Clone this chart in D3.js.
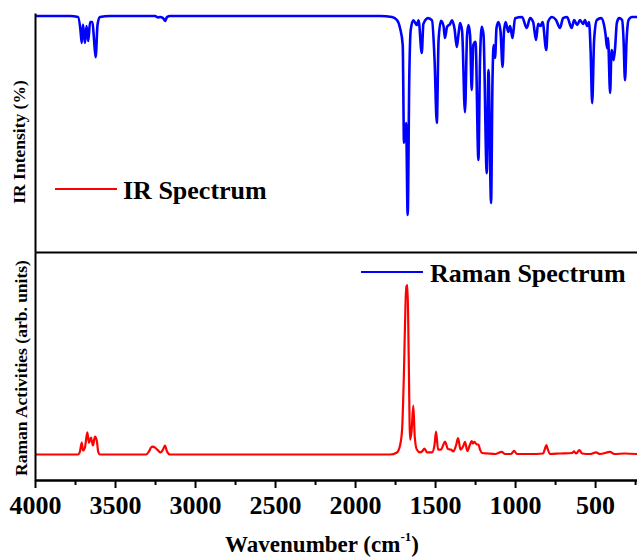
<!DOCTYPE html>
<html>
<head>
<meta charset="utf-8">
<script src="https://cdn.jsdelivr.net/npm/d3@7"></script>
<style>
body{margin:0;background:#fff;}
svg{display:block;font-family:"Liberation Serif","Times New Roman",serif;font-weight:bold;}
</style>
</head>
<body>
<div class="spectra-container"></div>
<script>
// IR spectrum (blue), wavenumber vs transmittance-like intensity
const irWavenumber = [4000,3781,3731,3716,3708,3700,3688,3678,3667,3656,3641,3631,3621,3609,3594,3531,
  3250,3231,3219,3200,3187,3175,3156,1844,1769,1737,1719,1702,1694,1681,1671,1661,1652,1636,1614,1603,
  1583,1573,1544,1519,1503,1489,1478,1463,1447,1438,1425,1406,1394,1378,1364,1354,1344,1331,1313,1300,
  1291,1281,1271,1261,1247,1229,1219,1208,1197,1177,1166,1150,1141,1134,1125,1116,1104,1091,1078,1069,
  1059,1042,1031,1016,1000,956,927,906,887,869,856,841,828,805,794,769,744,719,700,675,646,631,612,594,
  575,563,550,538,528,518,506,489,462,444,434,425,419,406,397,389,384,375,364,350,331,322,313,303,291,269,238];
const irIntensity = [100,100,99.5,93.5,87.4,96,87.4,95.3,88.3,97.2,97.2,88.8,80.8,96,99.5,100,
  100,99.3,99.5,99,97.7,99.5,100,100,99.5,98,94.4,86.4,40.7,50,7,71.5,93.5,98,95.8,98,
  82.7,96.3,99,98,79.4,50,88.8,97.7,95.3,89.7,94.9,96.3,98,93.9,85.5,91.1,96.7,93,55,91,
  95.8,91,65.4,86.4,87.9,32.7,79.4,94.9,91,26.6,74.8,12.6,70,86.4,80.4,94.4,97.2,93,76.2,93,
  97.2,92.5,95.3,89.7,99,99.5,94.4,99,97.2,88.8,96.3,95.3,97.2,84.1,97.2,99.5,98.1,94.4,99,99.5,94.4,98.1,95.8,98.1,
  96.3,98.1,95.3,97.2,84.1,59.3,88.8,98.1,99,95.8,91.1,85,89.7,64,84.1,81.8,79.4,85,96.7,99,98.1,88.8,70,88.8,98.1,99.5,99.5];

// Raman spectrum (red)
const ramanWavenumber = [4000,3731,3719,3708,3700,3688,3673,3663,3650,3638,3625,3614,3604,3594,
  3306,3288,3275,3263,3250,3231,3216,3200,3188,3175,3156,1781,1738,1719,1706,1694,1684,1678,1672,1665,
  1656,1647,1636,1627,1614,1594,1581,1566,1550,1519,1503,1494,1481,1463,1450,1438,1419,1400,1386,1369,
  1356,1341,1325,1313,1298,1284,1271,1263,1254,1239,1229,1219,1206,1169,1125,1083,1063,1025,1006,988,
  906,825,813,804,797,781,719,644,631,619,598,581,531,494,469,406,381,313,238];
const ramanActivity = [0,0,1.8,7,2.4,4.1,13,7,10,5.3,10.6,8.2,1.2,0,
  0,1.8,4.1,4.7,4.1,2.4,1.2,2.9,5.3,1.8,0,0,1.2,5.3,14.7,50,91,99.4,100,60,
  8.8,13.5,28.8,10.6,2.9,1.2,1.8,3.5,1.2,1.2,5.9,13.5,2.9,2.9,5.3,7.6,3.2,2.9,1.8,5.3,
  9.7,2.9,4.7,7.4,2.1,5.3,7.9,6.5,7.4,5.9,5.9,2.9,0.9,0.6,0.3,1.5,0.3,0.3,2.1,0.3,
  0.3,0.6,3.5,5.6,3.5,0.3,0.6,0.9,1.8,0.6,2.6,0.6,0.3,1.2,0.3,1.5,0.3,0.6,0.3];

const majorTicks = [4000,3500,3000,2500,2000,1500,1000,500];
const minorTicks = [3750,3250,2750,2250,1750,1250,750,250];

const irData = irWavenumber.map((w,i)=>({w:w, v:irIntensity[i]}));
const ramanData = ramanWavenumber.map((w,i)=>({w:w, v:ramanActivity[i]}));

function setupCanvas(){
    const svg_width = 637, svg_height = 558;
    const svg = d3.select('.spectra-container').append('svg')
        .attr('width',svg_width).attr('height',svg_height);

    const xScale = d3.scaleLinear().domain([4000,238]).range([35,637]);
    const irY = d3.scaleLinear().domain([0,100]).range([230,16]);
    const ramanY = d3.scaleLinear().domain([0,100]).range([454.5,285]);
    const topFrame = d3.scaleLinear().domain([0,1]).range([252,13]);
    const botFrame = d3.scaleLinear().domain([0,1]).range([480,252]);

    // 曲線
    const line = (yS)=>d3.line().x(d=>xScale(d.w)).y(d=>yS(d.v)).curve(d3.curveMonotoneX);
    svg.append('path').datum(irData)
        .attr('d',line(irY)).attr('fill','none')
        .attr('stroke','#0000ff').attr('stroke-width',2.6).attr('stroke-linejoin','round');
    svg.append('path').datum(ramanData)
        .attr('d',line(ramanY)).attr('fill','none')
        .attr('stroke','#ff0000').attr('stroke-width',2.2).attr('stroke-linejoin','round');

    // 軸
    const styleAxis = g => {
        g.selectAll('path,line').attr('stroke','#000').attr('stroke-width',2);
        g.attr('font-family',null).attr('font-size',null);
    };
    svg.append('g').attr('transform','translate(0,480)')
        .call(d3.axisBottom(xScale).tickValues(minorTicks.filter(t=>t>238)).tickSize(5).tickSizeOuter(0).tickFormat(''))
        .call(styleAxis);
    const xAxisDraw = svg.append('g').attr('transform','translate(0,480)')
        .call(d3.axisBottom(xScale).tickValues(majorTicks).tickSize(8).tickSizeOuter(0).tickPadding(8)
              .tickFormat(d3.format('d')))
        .call(styleAxis);
    xAxisDraw.selectAll('text').style('font-size','26px').attr('fill','#000');

    svg.append('g').attr('transform','translate(0,252)')
        .call(d3.axisBottom(xScale).tickValues([]).tickSizeOuter(0)).call(styleAxis);
    svg.append('g').attr('transform','translate(35,0)')
        .call(d3.axisLeft(topFrame).tickValues([]).tickSizeOuter(0)).call(styleAxis);
    svg.append('g').attr('transform','translate(35,0)')
        .call(d3.axisLeft(botFrame).tickValues([]).tickSizeOuter(0)).call(styleAxis);

    // 軸標題
    const xt = svg.append('text').attr('x',322).attr('y',552)
        .attr('text-anchor','middle').style('font-size','23px');
    xt.append('tspan').text('Wavenumber (cm');
    xt.append('tspan').text('-1').style('font-size','13px').attr('dy',-11);
    xt.append('tspan').text(')').attr('dy',11);

    svg.append('text').attr('transform','translate(25,142) rotate(-90)')
        .attr('text-anchor','middle').style('font-size','17.5px').text('IR Intensity (%)');
    svg.append('text').attr('transform','translate(27,368) rotate(-90)')
        .attr('text-anchor','middle').style('font-size','17.5px').text('Raman Activities (arb. units)');

    // 圖例
    svg.append('line').attr('x1',55).attr('x2',117).attr('y1',189).attr('y2',189)
        .attr('stroke','#ff0000').attr('stroke-width',2);
    svg.append('text').attr('x',123).attr('y',199).style('font-size','26px').text('IR Spectrum');
    svg.append('line').attr('x1',361).attr('x2',423).attr('y1',272).attr('y2',272)
        .attr('stroke','#0000ff').attr('stroke-width',2);
    svg.append('text').attr('x',430).attr('y',282).style('font-size','26px').text('Raman Spectrum');
}

setupCanvas();
</script>
</body>
</html>
